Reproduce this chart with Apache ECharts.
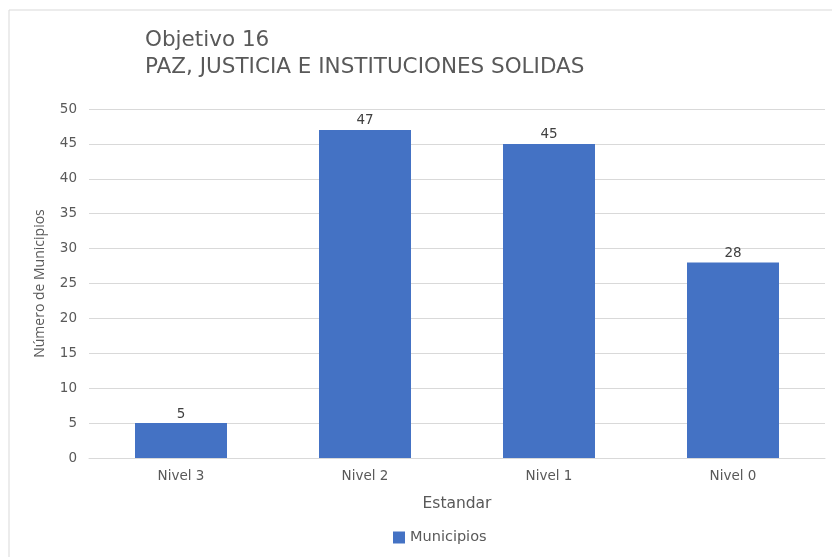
<!DOCTYPE html>
<html>
<head>
<meta charset="utf-8">
<script src="https://cdn.jsdelivr.net/npm/echarts@6/dist/echarts.min.js"></script>
<style>
  html, body { margin: 0; padding: 0; background: #fff; }
  #main { width: 832px; height: 557px; }
</style>
</head>
<body>
<div id="main"></div>
<script>
// datos del grafico
var categorias = ['Nivel 3', 'Nivel 2', 'Nivel 1', 'Nivel 0'];
var municipios = [5, 47, 45, 28];
var serieNombre = 'Municipios';

var chart = echarts.init(document.getElementById('main'));
var fuente = 'DejaVu Sans';

var option = {
  backgroundColor: '#fff',
  title: {
    text: 'Objetivo 16\nPAZ, JUSTICIA E INSTITUCIONES SOLIDAS',
    left: 140,
    top: 22,
    textStyle: {
      fontFamily: fuente,
      fontSize: 21.5,
      fontWeight: 'normal',
      color: '#595959',
      lineHeight: 27
    }
  },
  graphic: [{
    type: 'rect',
    shape: { x: 9, y: 10, width: 840, height: 570 },
    style: { fill: 'none', stroke: '#d9d9d9', lineWidth: 1 },
    silent: true
  }],
  legend: {
    data: [serieNombre],
    bottom: 7,
    left: 388,
    icon: 'rect',
    itemWidth: 12,
    itemHeight: 12,
    itemGap: 4,
    textStyle: { fontFamily: fuente, fontSize: 14.5, color: '#595959' }
  },
  grid: {
    left: 89,
    right: 7,
    top: 109,
    bottom: 99
  },
  xAxis: {
    type: 'category',
    data: categorias,
    name: 'Estandar',
    nameLocation: 'middle',
    nameGap: 38,
    nameTextStyle: { fontFamily: fuente, fontSize: 15.5, color: '#595959' },
    axisLine: { lineStyle: { color: '#d9d9d9' } },
    axisTick: { show: false },
    axisLabel: { fontFamily: fuente, fontSize: 13.5, color: '#595959', margin: 11 }
  },
  yAxis: {
    type: 'value',
    min: 0,
    max: 50,
    interval: 5,
    name: 'Número de Municipios',
    nameLocation: 'middle',
    nameGap: 42,
    nameTextStyle: { fontFamily: 'Open Sans', fontSize: 14, color: '#595959' },
    axisLine: { show: false },
    axisTick: { show: false },
    axisLabel: { fontFamily: fuente, fontSize: 13.5, color: '#595959', margin: 12 },
    splitLine: { lineStyle: { color: '#d9d9d9' } }
  },
  series: [{
    name: serieNombre,
    type: 'bar',
    data: municipios,
    barWidth: '50%',
    itemStyle: { color: '#4472C4' },
    label: {
      show: true,
      position: 'top',
      distance: 2,
      fontFamily: fuente,
      fontSize: 13.5,
      color: '#404040'
    }
  }]
};
chart.setOption(option);
</script>
</body>
</html>
